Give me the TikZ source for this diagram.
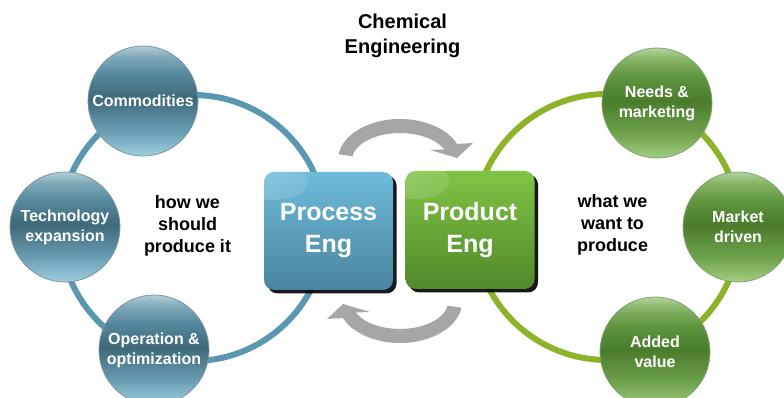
\documentclass[tikz,border=0pt]{standalone}
\usepackage{fontspec}
\setmainfont{Liberation Sans}
\usetikzlibrary{fadings,shadows,calc}
\definecolor{ringblue}{HTML}{5A97B0}
\definecolor{ringgreen}{HTML}{8DB32A}
\definecolor{arrowgray}{HTML}{A6A6A6}
\definecolor{bb1}{HTML}{9FCFE0}
\definecolor{bb2}{HTML}{6A9EB3}
\definecolor{bb3}{HTML}{3F6979}
\definecolor{bb4}{HTML}{55889C}
\definecolor{bb5}{HTML}{7FA9BA}
\definecolor{bb6}{HTML}{B2CDD8}
\definecolor{gb1}{HTML}{A2CE82}
\definecolor{gb2}{HTML}{6FA24C}
\definecolor{gb3}{HTML}{4A7C2C}
\definecolor{gb4}{HTML}{609540}
\definecolor{gb5}{HTML}{86B566}
\definecolor{gb6}{HTML}{B2D39C}
\definecolor{proctop}{HTML}{6DBBDA}
\definecolor{procbot}{HTML}{4A849E}
\definecolor{prodtop}{HTML}{80C445}
\definecolor{prodbot}{HTML}{51892B}
\pgfdeclareverticalshading{bluesphere}{100bp}{color(0bp)=(bb1); color(25bp)=(bb1); color(36bp)=(bb2); color(51bp)=(bb3); color(62bp)=(bb4); color(70bp)=(bb5); color(75bp)=(bb6); color(100bp)=(bb6)}
\pgfdeclareverticalshading{greensphere}{100bp}{color(0bp)=(gb1); color(25bp)=(gb1); color(36bp)=(gb2); color(51bp)=(gb3); color(62bp)=(gb4); color(70bp)=(gb5); color(75bp)=(gb6); color(100bp)=(gb6)}
\tikzfading[name=boxglow, left color=transparent!80, right color=transparent!100]
\tikzset{
  bubble/.style={circle, minimum size=110pt, inner sep=0pt, align=center, text=white,
    font=\bfseries\fontsize{16}{20}\selectfont},
  bluebub/.style={bubble, shading=bluesphere, draw=bb3!70, line width=0.8pt},
  greenbub/.style={bubble, shading=greensphere, draw=gb3!70, line width=0.8pt},
  bigbox/.style={rounded corners=10pt, minimum width=129pt, minimum height=118pt, inner sep=0pt,
    align=center, text=white, font=\bfseries\fontsize{25}{32}\selectfont,
    drop shadow={shadow xshift=3.5pt, shadow yshift=-3.5pt, fill=black, opacity=0.9},
    path picture={\fill[white, path fading=boxglow] ($(path picture bounding box.north west)+(10,-10)$) ellipse [x radius=34, y radius=18];}},
  plain/.style={align=center, text=black, font=\bfseries\fontsize{18}{22}\selectfont},
  ring/.style={line width=6pt},
  grayarrow/.style={fill=arrowgray}
}
\begin{document}
\begin{tikzpicture}[x=1pt,y=1pt]
\useasboundingbox (0,0) rectangle (784,398);
% rings
\draw[ring, ringblue] (193,170) circle[radius=133];
\draw[ring, ringgreen] (607,171) circle[radius=133];
% gray arrows
\fill[grayarrow] (338.6,243.7) arc[start angle=172, end angle=23, x radius=62, y radius=41]
  -- (473,255) -- (457,240) -- (430,248) -- (444.2,248.5)
  arc[start angle=23, end angle=172, x radius=48, y radius=27] -- cycle;
\begin{scope}[rotate around={180:(400,167)}]
\fill[grayarrow] (338.6,243.7) arc[start angle=172, end angle=23, x radius=62, y radius=41]
  -- (473,255) -- (457,240) -- (430,248) -- (444.2,248.5)
  arc[start angle=23, end angle=172, x radius=48, y radius=27] -- cycle;
\end{scope}
% bubbles
\node[bluebub] (comm) at (143,297) {Commodities};
\node[bluebub] (tech) at (65,171) {Technology\\expansion};
\node[bluebub] (oper) at (154,48) {Operation \&\\optimization};
\node[greenbub] (need) at (657,295) {Needs \&\\marketing};
\node[greenbub] (mark) at (738,171) {Market\\driven};
\node[greenbub] (addv) at (655,46) {Added\\value};
% boxes
\node[bigbox, top color=proctop, bottom color=procbot] (proc) at (328.5,167) {Process\\Eng};
\node[bigbox, top color=prodtop, bottom color=prodbot] (prod) at (470,168) {Product\\Eng};
% texts
\node[plain] (howtxt) at (187.5,172) {how we\\should\\produce it};
\node[plain] (whattxt) at (612.5,173) {what we\\want to\\produce};
\node[align=center, font=\bfseries\fontsize{20}{25}\selectfont] (title) at (402.5,362) {Chemical\\Engineering};
\end{tikzpicture}
\end{document}
